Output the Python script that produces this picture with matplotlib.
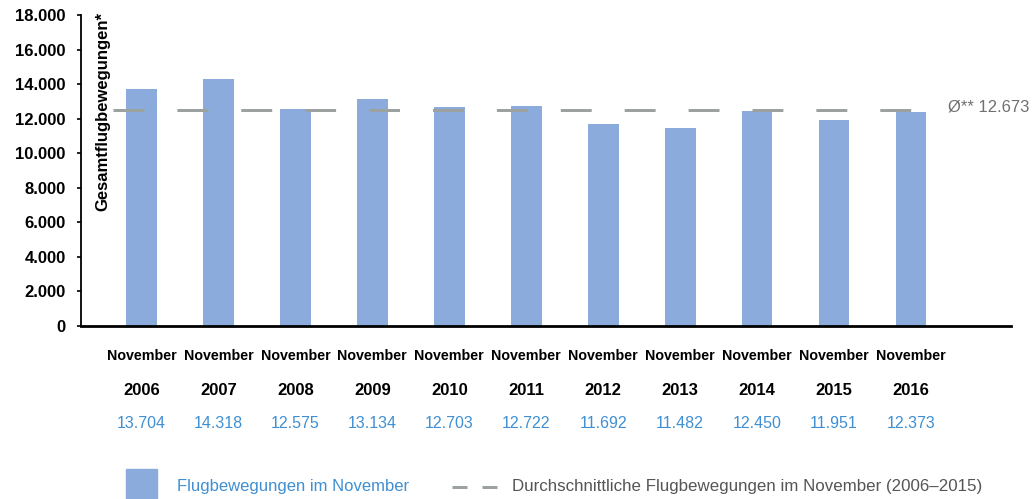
import matplotlib
matplotlib.use("Agg")
import matplotlib.pyplot as plt
from matplotlib.patches import Rectangle
from matplotlib.lines import Line2D
from matplotlib.transforms import blended_transform_factory

plt.rcParams['font.family'] = ['Liberation Sans', 'DejaVu Sans']

# data
years = ["2006", "2007", "2008", "2009", "2010", "2011",
         "2012", "2013", "2014", "2015", "2016"]
month_label = "November"
movements = [13704, 14318, 12575, 13134, 12703, 12722,
             11692, 11482, 12450, 11951, 12373]
value_labels = ["13.704", "14.318", "12.575", "13.134", "12.703", "12.722",
                "11.692", "11.482", "12.450", "11.951", "12.373"]
avg_level = 12500          # where the dashed line sits in the picture
avg_label = "Ø** 12.673"
y_ticks = [0, 2000, 4000, 6000, 8000, 10000, 12000, 14000, 16000, 18000]
y_tick_labels = ["0", "2.000", "4.000", "6.000", "8.000", "10.000",
                 "12.000", "14.000", "16.000", "18.000"]

bar_color = "#8aabdb"
avg_color = "#9ba29f"
value_color = "#3f8fd2"

fig = plt.figure(figsize=(10.35, 4.99), dpi=100)
ax = fig.add_axes([81 / 1035, 1 - 326 / 499, (1011 - 81) / 1035, (326 - 15) / 499])

x = list(range(len(years)))
ax.bar(x, movements, width=0.4, color=bar_color, zorder=2)

# dashed average line
ax.hlines(avg_level, -0.37, 10.16, colors=avg_color, linewidth=2.16,
          linestyles=(0, (10.3, 11)), zorder=3)
ax.text(10.48, avg_level + 200, avg_label, color="#707070", fontsize=12,
        va="center", ha="left", clip_on=False)

ax.set_xlim(-0.786, 11.3)
ax.set_ylim(0, 18000)
ax.set_yticks(y_ticks)
ax.set_yticklabels(y_tick_labels, fontsize=12, fontweight="bold")
ax.tick_params(axis="y", length=3, width=1.2, pad=8)
ax.set_xticks([])

for side in ["top", "right"]:
    ax.spines[side].set_visible(False)
ax.spines["left"].set_linewidth(1.3)
ax.spines["bottom"].set_linewidth(2)

ax.text(-0.5, 18150, "Gesamtflugbewegungen*", rotation=90, fontsize=12,
        fontweight="bold", va="top", ha="center")

# category labels under the axis
trans = blended_transform_factory(ax.transData, ax.transAxes)
for i, yr in enumerate(years):
    ax.text(i, -0.0965, month_label, transform=trans, ha="center", va="center",
            fontsize=10.3, fontweight="bold")
    ax.text(i, -0.206, yr, transform=trans, ha="center", va="center",
            fontsize=12, fontweight="bold")
    ax.text(i, -0.315, value_labels[i], transform=trans, ha="center", va="center",
            fontsize=11.5, color=value_color)

# legend drawn by hand in figure pixels
fig.patches.append(Rectangle((126 / 1035, 1 - 499 / 499), 31 / 1035, 30 / 499,
                             transform=fig.transFigure, color=bar_color))
fig.text(177 / 1035, 1 - 487 / 499, "Flugbewegungen im November", color=value_color,
         fontsize=12, va="center", ha="left")
fig.lines.append(Line2D([452 / 1035, 497 / 1035], [1 - 487 / 499, 1 - 487 / 499],
                        transform=fig.transFigure, color=avg_color, linewidth=2.16,
                        linestyle=(0, (5, 5)), solid_capstyle="butt",
                        dash_capstyle="butt"))
fig.text(512 / 1035, 1 - 487 / 499, "Durchschnittliche Flugbewegungen im November (2006\u20132015)",
         color="#555555", fontsize=12.2, va="center", ha="left")

fig.savefig("out.png", dpi=100)
